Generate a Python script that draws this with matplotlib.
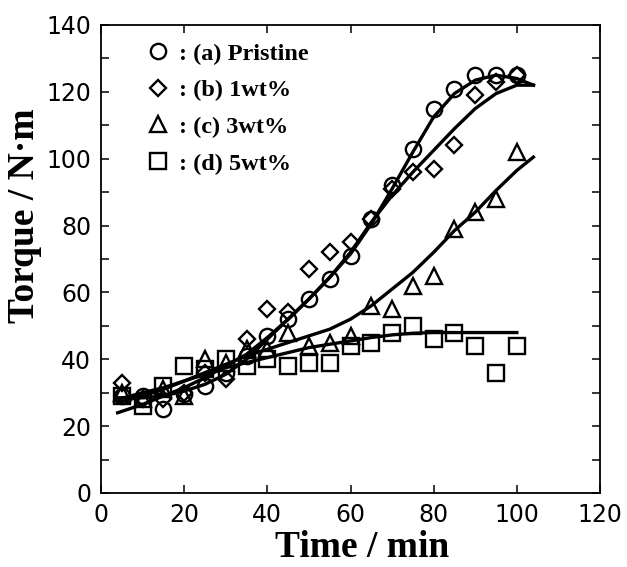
import matplotlib
matplotlib.use("Agg")
import matplotlib.pyplot as plt
from matplotlib.ticker import MultipleLocator

# ---- data ----
time = [5, 10, 15, 20, 25, 30, 35, 40, 45, 50, 55, 60, 65, 70, 75, 80, 85, 90, 95, 100]
pristine = [29, 29, 25, 29.5, 32, 36, 41, 47, 52, 58, 64, 71, 82, 92, 103, 115, 121, 125, 125, 125]
wt1 = [33, 28, 28, 30, 36, 34, 46, 55, 54, 67, 72, 75, 82, 91, 96, 97, 104, 119, 123, 125]
wt3 = [30, 28, 31, 29, 40, 39, 43, 43, 48, 44, 45, 47, 56, 55, 62, 65, 79, 84, 88, 102]
wt5 = [29, 26, 32, 38, 37, 40, 38, 40, 38, 39, 39, 44, 45, 48, 50, 46, 48, 44, 36, 44]

fit_time = [4, 10, 15, 20, 25, 30, 35, 40, 45, 50, 55, 60, 65, 70, 75, 80, 85, 90, 95, 100, 104]
fit_pristine = [28.5, 28.5, 29, 30.5, 32.5, 35.5, 40, 46, 52, 58, 64.5, 71.5, 80.5, 91, 102, 112.5, 119.5, 123.5, 125, 124, 122]
fit_wt1 = [24, 26.5, 29, 31.5, 34.5, 38, 41.5, 46.5, 52, 58, 64.5, 72, 81, 89, 96, 102.5, 109, 115, 119.5, 122, 122]
fit_wt3 = [28, 30, 31.5, 33.5, 36, 38.5, 41, 43, 45, 47, 49, 52, 56, 61, 66, 72, 78.5, 84, 90.5, 96.5, 100.5]
fit_time_d = [4, 10, 15, 20, 25, 30, 35, 40, 45, 50, 55, 60, 65, 70, 75, 80, 85, 90, 95, 100]
fit_wt5 = [27, 29, 31, 33.5, 35.5, 37.5, 39, 40.5, 42, 43.5, 44.5, 45.5, 46.5, 47.3, 47.8, 48, 48, 48, 48, 48]

labels = [": (a) Pristine", ": (b) 1wt%", ": (c) 3wt%", ": (d) 5wt%"]
xticks = [0, 20, 40, 60, 80, 100, 120]
yticks = [0, 20, 40, 60, 80, 100, 120, 140]

fig = plt.figure(figsize=(6.27, 5.67), dpi=100)
ax = fig.add_axes([101/627, 1-493/567, 499/627, 468/567])

mk = dict(linestyle="none", markerfacecolor="none", markeredgecolor="black", markeredgewidth=1.7)
h1, = ax.plot(time, pristine, marker="o", markersize=11, label=labels[0], **mk)
h2, = ax.plot(time, wt1, marker="D", markersize=8.5, label=labels[1], **mk)
h3, = ax.plot(time, wt3, marker="^", markersize=11, label=labels[2], **mk)
h4, = ax.plot(time, wt5, marker="s", markersize=11, label=labels[3], **mk)

lw = 2.4
ax.plot(fit_time, fit_pristine, color="black", lw=lw)
ax.plot(fit_time, fit_wt1, color="black", lw=lw)
ax.plot(fit_time, fit_wt3, color="black", lw=lw)
ax.plot(fit_time_d, fit_wt5, color="black", lw=lw)

ax.set_xlim(0, 120)
ax.set_ylim(0, 140)
ax.set_xticks(xticks)
ax.set_yticks(yticks)
ax.yaxis.set_minor_locator(MultipleLocator(10))
ax.tick_params(which="both", direction="in", top=True, right=True, length=6, width=1.1)
ax.tick_params(which="major", labelsize=17, pad=7)
for lab in ax.get_xticklabels() + ax.get_yticklabels():
    lab.set_fontfamily("DejaVu Sans")
for s in ax.spines.values():
    s.set_linewidth(1.3)

serif_bold = dict(family="Liberation Serif", weight="bold", size=27)
ax.set_xlabel("Time / min", fontdict=serif_bold)
ax.xaxis.set_label_coords(0.523, -0.080)
ax.set_ylabel("Torque / N\u00b7m", fontdict=serif_bold)
ax.yaxis.set_label_coords(-0.118, 0.592)

ax.legend(handles=[h1, h2, h3, h4], loc="upper left", bbox_to_anchor=(0.09, 0.962),
          frameon=False, handlelength=1.0, handletextpad=0.35, borderpad=0,
          borderaxespad=0, labelspacing=0.6,
          prop=dict(family="Liberation Serif", weight="bold", size=17.5))

fig.savefig("out.png", dpi=100)
